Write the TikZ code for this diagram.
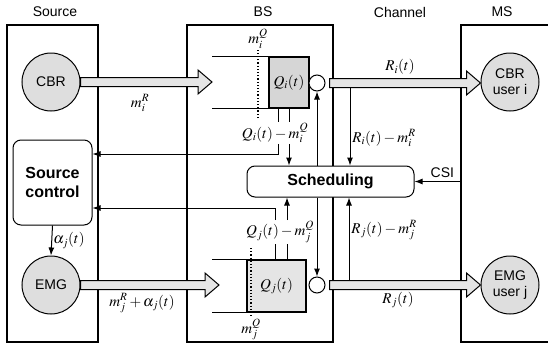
\documentclass[tikz,border=0pt]{standalone}
\usepackage{mathptmx}
\usepackage[no-math]{fontspec}
\setmainfont{Liberation Sans}
\usetikzlibrary{arrows.meta,calc}
% Fleche large creuse (de #1 vers la pointe #2)
\newcommand{\FlecheLarge}[2]{%
	\draw[grossefleche] let \p1=(#1), \p2=(#2) in
	(\x1,{\y1+4.5pt}) -- ({\x2-14pt},{\y1+4.5pt}) -- ({\x2-14pt},{\y1+12pt}) -- (\x2,\y1)
	-- ({\x2-14pt},{\y1-12pt}) -- ({\x2-14pt},{\y1-4.5pt}) -- (\x1,{\y1-4.5pt}) -- cycle;}
\begin{document}
\begin{tikzpicture}[x=1pt,y=-1pt]
	% Styles (MODIFIABLES)
	\tikzstyle{cadre}=[line width=1.1pt]
	\tikzstyle{trait}=[line width=1pt]
	\tikzstyle{fleche}=[->,>={Latex[length=8pt,width=6pt]},line width=1pt]
	\tikzstyle{titre}=[font=\fontsize{14}{16}\selectfont]
	\tikzstyle{source}=[circle,draw,line width=1pt,fill=black!13,minimum size=58pt,inner sep=0pt,align=center,font=\fontsize{14}{16}\selectfont]
	\tikzstyle{bloc}=[draw,line width=1pt,rounded corners=8pt,fill=white,align=center,inner sep=0pt,font=\bfseries\fontsize{16}{19}\selectfont]
	\tikzstyle{file}=[draw,line width=1.2pt,fill=black!16,inner sep=0pt,font=\fontsize{15}{17}\selectfont]
	\tikzstyle{serveur}=[circle,draw,line width=1pt,fill=white,minimum size=16pt,inner sep=0pt]
	\tikzstyle{grossefleche}=[draw,line width=1pt,fill=black!10]
	\tikzstyle{etiquette}=[font=\fontsize{15}{17}\selectfont,inner sep=1pt]
	\tikzstyle{pointille}=[dotted,line width=1.2pt]
	%
	\useasboundingbox (0,0) rectangle (548,348);
	% Cadres
	\draw[cadre] (7,25) rectangle (98,342);
	\draw[cadre] (187,25) rectangle (333,342);
	\draw[cadre] (548,25) -- (461,25) -- (461,342) -- (548,342);
	\node[titre] (tSource) at (55,12) {Source};
	\node[titre] (tBS) at (263,12) {BS};
	\node[titre] (tChannel) at (400,12) {Channel};
	\node[titre] (tMS) at (502,12) {MS};
	% Noeuds
	\node[source] (CBR) at (51,82) {CBR};
	\node[source] (EMG) at (51,285) {EMG};
	\node[bloc,minimum width=79pt,minimum height=85pt] (Ctrl) at (52.5,182.5) {Source\\control};
	\node[file,minimum width=40pt,minimum height=51pt] (Qi) at (289,82.5) {$Q_i(t)$};
	\node[file,fill=black!10,minimum width=59pt,minimum height=52pt] (Qj) at (276.5,286) {$Q_j(t)$};
	\node[serveur] (Si) at (317,83) {};
	\node[serveur] (Sj) at (317,285) {};
	\node[bloc,minimum width=167pt,minimum height=31pt] (Sched) at (330.5,181.5) {Scheduling};
	\node[source] (Ui) at (510,82) {CBR\\user i};
	\node[source] (Uj) at (510,285) {EMG\\user j};
	%
	\coordinate (Ei) at (212,82);
	\coordinate (Ej) at (219,285);
	\coordinate (mQi) at (258,118);
	\coordinate (mQj) at (251,248);
	\coordinate (Ti) at (350,87.5);
	\coordinate (Tj) at (349,280.5);
	\coordinate (Fi) at (278,154);
	\coordinate (Fj) at (276,208);
	\coordinate (Csi) at (461,181.5);
	\coordinate (Gi) at ($(Qi.south)+(-11,0)$);
	\coordinate (Gj) at ($(Qj.north)+(-1,0)$);
	\coordinate (Hj) at ($(Qj.north)+(10.5,0)$);
	% Files d'attente
	\draw[trait] (Qi.north west) -- ++(-56,0);
	\draw[trait] (Qi.south west) -- ++(-56,0);
	\draw[trait] (Qj.north west) -- ++(-34,0);
	\draw[trait] (Qj.south west) -- ++(-34,0);
	\draw[pointille] (mQi) -- ++(0,-68) node[etiquette,above] (lmQi) {$m_i^Q$};
	\draw[pointille] (mQj) -- ++(0,69) node[etiquette,below] (lmQj) {$m_j^Q$};
	% Etiquettes
	\node[etiquette] (lmRi) at (140,103) {$m_i^R$};
	\node[etiquette] (lmRj) at (142,303) {$m_j^R+\alpha_j(t)$};
	\node[etiquette] (lRi) at (400,67) {$R_i(t)$};
	\node[etiquette] (lRj) at (398,300) {$R_j(t)$};
	\node[etiquette] (lDi) at (275,133) {$Q_i(t)-m_i^Q$};
	\node[etiquette] (lDj) at (280,232) {$Q_j(t)-m_j^Q$};
	\node[etiquette] (lRmi) at (384,138) {$R_i(t)-m_i^R$};
	\node[etiquette] (lRmj) at (384,230) {$R_j(t)-m_j^R$};
	% Arcs
	\FlecheLarge{CBR.east}{Ei}
	\FlecheLarge{EMG.east}{Ej}
	\FlecheLarge{$(Si.east)+(4,0)$}{Ui.west}
	\FlecheLarge{$(Sj.east)+(4,0)$}{Uj.west}
	\draw[fleche] (Ctrl.south) -- (EMG.north) node[etiquette,midway,right] (lAlpha) {$\alpha_j(t)$};
	\draw[trait] (Gi) -- (Gi |- lDi.north);
	\draw[trait] (Qi.south) -- (Qi.south |- lDi.north);
	\draw[fleche] (Gi |- lDi.south) |- (Ctrl.east |- Fi);
	\draw[fleche] (Qi.south |- lDi.south) -- (Qi.south |- Sched.north);
	\draw[trait] (Gj) -- (Gj |- lDj.south);
	\draw[trait] (Hj) -- (Hj |- lDj.south);
	\draw[fleche] (Gj |- lDj.north) |- (Ctrl.east |- Fj);
	\draw[fleche] (Hj |- lDj.north) -- (Hj |- Sched.south);
	\draw[fleche] (Sched.north -| Si) -- (Si.south);
	\draw[fleche] (Sched.south -| Sj) -- (Sj.north);
	\draw[fleche] (Ti) -- (Ti |- Sched.north);
	\draw[fleche] (Tj) -- (Tj |- Sched.south);
	\draw[fleche] (Csi) -- (Sched.east) node[titre,pos=0.4,above] (lCsi) {CSI};
\end{tikzpicture}
\end{document}
